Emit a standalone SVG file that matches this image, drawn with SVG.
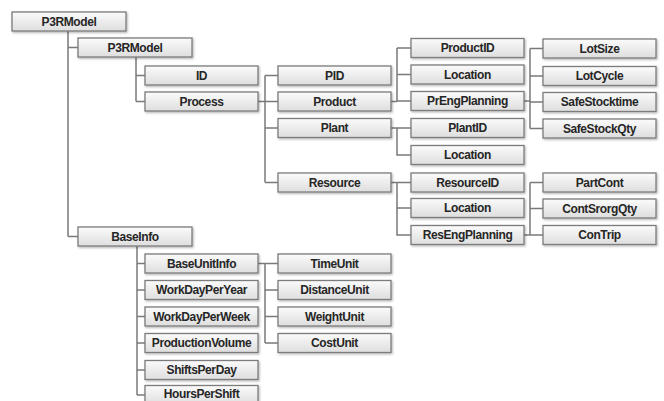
<svg xmlns="http://www.w3.org/2000/svg" width="664" height="401" viewBox="0 0 664 401">
  <style>
    .box { fill: url(#boxFill); stroke: #7c7c7c; stroke-width: 1.3; filter: url(#shadow); }
    .lbl { font-family: "Liberation Sans", Arial, sans-serif; font-weight: bold; font-size: 12px; letter-spacing: -0.4px; fill: #262626; text-anchor: middle; dominant-baseline: central; }
    .wire { fill: none; stroke: #7a7a7a; stroke-width: 1.5; }
  </style>
  <defs>
    <linearGradient id="boxFill" x1="0" y1="0" x2="0" y2="1">
      <stop offset="0" stop-color="#fbfbfb"/>
      <stop offset="1" stop-color="#dedede"/>
    </linearGradient>
    <filter id="shadow" x="-10%" y="-30%" width="120%" height="170%">
      <feDropShadow dx="1" dy="1.2" stdDeviation="0.8" flood-color="#000" flood-opacity="0.3"/>
    </filter>
  </defs>
  <rect width="664" height="401" fill="#ffffff"/>

  <!-- tree connectors -->
  <g id="connectors" class="wire">
    <path d="M68 31 V236.5 M68 47.5 H78 M68 236.5 H78"/>
    <path d="M136 57 V101.5 M136 75.5 H145 M136 101.5 H145"/>
    <path d="M258 101.5 H265 M265 75.5 V182.5 M265 75.5 H278 M265 101.5 H278 M265 128 H278 M265 182.5 H278"/>
    <path d="M391 101.5 H397 M397 48 V101.5 M397 48 H411 M397 74.5 H411 M397 101 H411"/>
    <path d="M391 128 H411 M397 128 V155 H411"/>
    <path d="M391 182.5 H411 M397 182.5 V235 H411 M397 208 H411"/>
    <path d="M524 101 H530 M530 48.5 V128.5 M530 48.5 H543 M530 76 H543 M530 102 H543 M530 128.5 H543"/>
    <path d="M524 235 H530 M530 182.5 V235 H543 M530 182.5 H543 M530 208.5 H543"/>
    <path d="M137 246 V395 M137 263.5 H145 M137 290 H145 M137 316.5 H145 M137 343 H145 M137 370 H145 M137 395 H145"/>
    <path d="M258 263.5 H265 M265 263.5 V343 M265 263.5 H278 M265 290 H278 M265 316.5 H278 M265 343 H278"/>
  </g>

  <!-- root level -->
  <g id="n_root"><rect class="box" x="12" y="12" width="114" height="19"/><text class="lbl" x="69" y="21.5">P3RModel</text></g>
  <g id="n_model"><rect class="box" x="78" y="38" width="114" height="19"/><text class="lbl" x="135" y="47.5">P3RModel</text></g>
  <g id="n_baseinfo"><rect class="box" x="78" y="227" width="114" height="19"/><text class="lbl" x="135" y="236.5">BaseInfo</text></g>

  <!-- model members -->
  <g id="n_id"><rect class="box" x="145" y="66" width="113" height="19"/><text class="lbl" x="201.5" y="75.5">ID</text></g>
  <g id="n_process"><rect class="box" x="145" y="92" width="113" height="19"/><text class="lbl" x="201.5" y="101.5">Process</text></g>

  <!-- process members -->
  <g id="n_pid"><rect class="box" x="278" y="66" width="113" height="19"/><text class="lbl" x="334.5" y="75.5">PID</text></g>
  <g id="n_product"><rect class="box" x="278" y="92" width="113" height="19"/><text class="lbl" x="334.5" y="101.5">Product</text></g>
  <g id="n_plant"><rect class="box" x="278" y="118.5" width="113" height="19"/><text class="lbl" x="334.5" y="128">Plant</text></g>
  <g id="n_resource"><rect class="box" x="278" y="173" width="113" height="19"/><text class="lbl" x="334.5" y="182.5">Resource</text></g>

  <!-- product / plant / resource members -->
  <g id="n_productid"><rect class="box" x="411" y="38.5" width="113" height="19"/><text class="lbl" x="467.5" y="48">ProductID</text></g>
  <g id="n_prodloc"><rect class="box" x="411" y="65" width="113" height="19"/><text class="lbl" x="467.5" y="74.5">Location</text></g>
  <g id="n_preng"><rect class="box" x="411" y="91.5" width="113" height="19"/><text class="lbl" x="467.5" y="101">PrEngPlanning</text></g>
  <g id="n_plantid"><rect class="box" x="411" y="118.5" width="113" height="19"/><text class="lbl" x="467.5" y="128">PlantID</text></g>
  <g id="n_plantloc"><rect class="box" x="411" y="145.5" width="113" height="19"/><text class="lbl" x="467.5" y="155">Location</text></g>
  <g id="n_resourceid"><rect class="box" x="411" y="173" width="113" height="19"/><text class="lbl" x="467.5" y="182.5">ResourceID</text></g>
  <g id="n_resloc"><rect class="box" x="411" y="198.5" width="113" height="19"/><text class="lbl" x="467.5" y="208">Location</text></g>
  <g id="n_reseng"><rect class="box" x="411" y="225.5" width="113" height="19"/><text class="lbl" x="467.5" y="235">ResEngPlanning</text></g>

  <!-- planning members -->
  <g id="n_lotsize"><rect class="box" x="543" y="39" width="113" height="19"/><text class="lbl" x="599.5" y="48.5">LotSize</text></g>
  <g id="n_lotcycle"><rect class="box" x="543" y="66.5" width="113" height="19"/><text class="lbl" x="599.5" y="76">LotCycle</text></g>
  <g id="n_safetime"><rect class="box" x="543" y="92.5" width="113" height="19"/><text class="lbl" x="599.5" y="102">SafeStocktime</text></g>
  <g id="n_safeqty"><rect class="box" x="543" y="119" width="113" height="19"/><text class="lbl" x="599.5" y="128.5">SafeStockQty</text></g>
  <g id="n_partcont"><rect class="box" x="543" y="173" width="113" height="19"/><text class="lbl" x="599.5" y="182.5">PartCont</text></g>
  <g id="n_contsrorg"><rect class="box" x="543" y="199" width="113" height="19"/><text class="lbl" x="599.5" y="208.5">ContSrorgQty</text></g>
  <g id="n_contrip"><rect class="box" x="543" y="225.5" width="113" height="19"/><text class="lbl" x="599.5" y="235">ConTrip</text></g>

  <!-- base info members -->
  <g id="n_baseunit"><rect class="box" x="145" y="254" width="113" height="19"/><text class="lbl" x="201.5" y="263.5">BaseUnitInfo</text></g>
  <g id="n_wdyear"><rect class="box" x="145" y="280.5" width="113" height="19"/><text class="lbl" x="201.5" y="290">WorkDayPerYear</text></g>
  <g id="n_wdweek"><rect class="box" x="145" y="307" width="113" height="19"/><text class="lbl" x="201.5" y="316.5">WorkDayPerWeek</text></g>
  <g id="n_prodvol"><rect class="box" x="145" y="333.5" width="113" height="19"/><text class="lbl" x="201.5" y="343">ProductionVolume</text></g>
  <g id="n_shifts"><rect class="box" x="145" y="360.5" width="113" height="19"/><text class="lbl" x="201.5" y="370">ShiftsPerDay</text></g>
  <g id="n_hours"><rect class="box" x="145" y="385.5" width="113" height="19"/><text class="lbl" x="201.5" y="394">HoursPerShift</text></g>

  <!-- unit members -->
  <g id="n_time"><rect class="box" x="278" y="254" width="113" height="19"/><text class="lbl" x="334.5" y="263.5">TimeUnit</text></g>
  <g id="n_dist"><rect class="box" x="278" y="280.5" width="113" height="19"/><text class="lbl" x="334.5" y="290">DistanceUnit</text></g>
  <g id="n_weight"><rect class="box" x="278" y="307" width="113" height="19"/><text class="lbl" x="334.5" y="316.5">WeightUnit</text></g>
  <g id="n_cost"><rect class="box" x="278" y="333.5" width="113" height="19"/><text class="lbl" x="334.5" y="343">CostUnit</text></g>
</svg>
